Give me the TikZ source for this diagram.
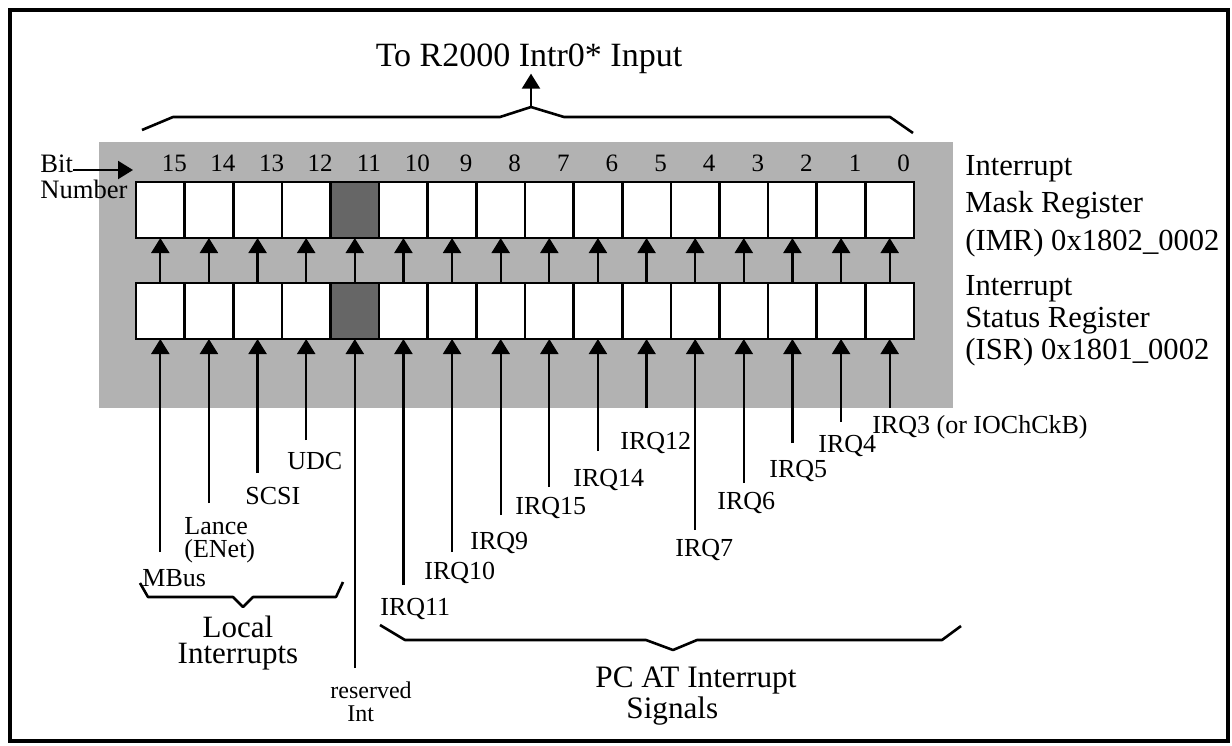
\documentclass[tikz,border=0pt]{standalone}
\usepackage{fontspec}
\setmainfont{Liberation Serif}
\usetikzlibrary{arrows.meta}
\begin{document}
\begin{tikzpicture}[x=0.5pt, y=-0.5pt,
  sig/.style={line width=1.1pt, -{Triangle[width=9pt,length=7.5pt]}},
  brace/.style={line width=1.3pt, line join=round},
  cell/.style={draw, line width=1.3pt, minimum width=24.3125pt, minimum height=28pt, inner sep=0pt, outer sep=0pt},
  lbl/.style={font=\fontsize{13}{11.5}\selectfont, inner sep=0pt},
  bitno/.style={font=\fontsize{12.5}{14}\selectfont, inner sep=0pt},
  reglbl/.style={inner sep=0pt, align=left},
  grouplbl/.style={font=\fontsize{15.5}{13}\selectfont, inner sep=0pt}]
\useasboundingbox (0,0) rectangle (1232,745);
\draw[line width=2.4pt] (10,10) rectangle (1228,741);
\fill[black!30] (99,142) rectangle (953,408);
\foreach \b in {0,...,15} {
  \pgfmathtruncatemacro\shade{ifthenelse(\b==11,60,0)}
  \node[cell, fill=black!\shade] (imr\b) at ({160.3125+48.625*(15-\b)},210) {};
  \node[cell, fill=black!\shade] (isr\b) at ({160.3125+48.625*(15-\b)},311) {};
  \node[bitno, anchor=base] (no\b) at ([xshift=7pt,yshift=5.5pt]imr\b.north) {\b};
  \draw[sig] (isr\b.north) -- (imr\b.south);
}
\foreach \b/\ye in {15/552,14/503,13/473,12/440,11/668,10/585,9/552,8/515,7/487,6/451,5/408,4/530,3/483,2/443,1/422,0/408} {
  \coordinate (src\b) at ({160.3125+48.625*(15-\b)},\ye);
  \draw[sig] (src\b) -- (isr\b.south);
}
\node[font=\fontsize{17}{20}\selectfont, inner sep=0pt, anchor=base] (title) at (529,66) {To R2000 Intr0* Input};
\coordinate (apex) at (531,107);
\draw[brace] (142,130) -- (173,117) -- (500,117) -- (apex) -- (564,117) -- (890,117) -- (913,133);
\draw[sig] (apex) -- (title.south -| apex);
\node[lbl, font=\fontsize{13.3}{13}\selectfont, anchor=base west] (bitword) at (40,172) {Bit};
\node[lbl, font=\fontsize{13.3}{13}\selectfont, anchor=base west] (numword) at (40,198) {Number};
\coordinate (bitend) at (133,170);
\draw[sig] ([yshift=1pt]bitword.base east) -- (bitend);
\node[reglbl, font=\fontsize{15.3}{18.75}\selectfont, anchor=base west] (imrlbl) at (965,250) {Interrupt\\Mask Register\\(IMR) 0x1802\_0002};
\node[reglbl, font=\fontsize{15.3}{16}\selectfont, anchor=base west] (isrlbl) at (965,359) {Interrupt\\Status Register\\(ISR) 0x1801\_0002};
\node[lbl, anchor=base west] (mbus) at (142,586) {MBus};
\node[lbl, anchor=base west, align=left] (lance) at (184,557) {Lance\\(ENet)};
\node[lbl, anchor=base west] (scsi) at (245,504) {SCSI};
\node[lbl, anchor=base west] (udc) at (287,469) {UDC};
\node[lbl, font=\fontsize{12}{11.5}\selectfont, anchor=base west, align=left] (resv) at (330,721) {reserved\\\hspace*{8.5pt}Int};
\node[lbl, anchor=base west] (irq11) at (380,615) {IRQ11};
\node[lbl, anchor=base west] (irq10) at (424,579) {IRQ10};
\node[lbl, anchor=base west] (irq9) at (470,549) {IRQ9};
\node[lbl, anchor=base west] (irq15) at (515,514) {IRQ15};
\node[lbl, anchor=base west] (irq14) at (573,486) {IRQ14};
\node[lbl, anchor=base west] (irq12) at (620,449) {IRQ12};
\node[lbl, anchor=base west] (irq7) at (675,556) {IRQ7};
\node[lbl, anchor=base west] (irq6) at (717,509) {IRQ6};
\node[lbl, anchor=base west] (irq5) at (769,477) {IRQ5};
\node[lbl, anchor=base west] (irq4) at (818,452) {IRQ4};
\node[lbl, anchor=base west] (irq3) at (872,433) {IRQ3 (or IOChCkB)};
\draw[brace] (140,583) -- (148,597) -- (233,597) -- (243,607) -- (253,597) -- (336,597) -- (343,582);
\node[grouplbl, align=center, anchor=base] (local) at (238,663) {Local\\Interrupts};
\draw[brace] (380,625) -- (405,640) -- (646,640) -- (673,650) -- (697,640) -- (942,640) -- (961,626);
\node[grouplbl, font=\fontsize{15.6}{12}\selectfont, align=left, anchor=base west] (pcat) at (595,718) {PC AT Interrupt\\\hspace*{15.5pt}Signals};
\end{tikzpicture}
\end{document}
